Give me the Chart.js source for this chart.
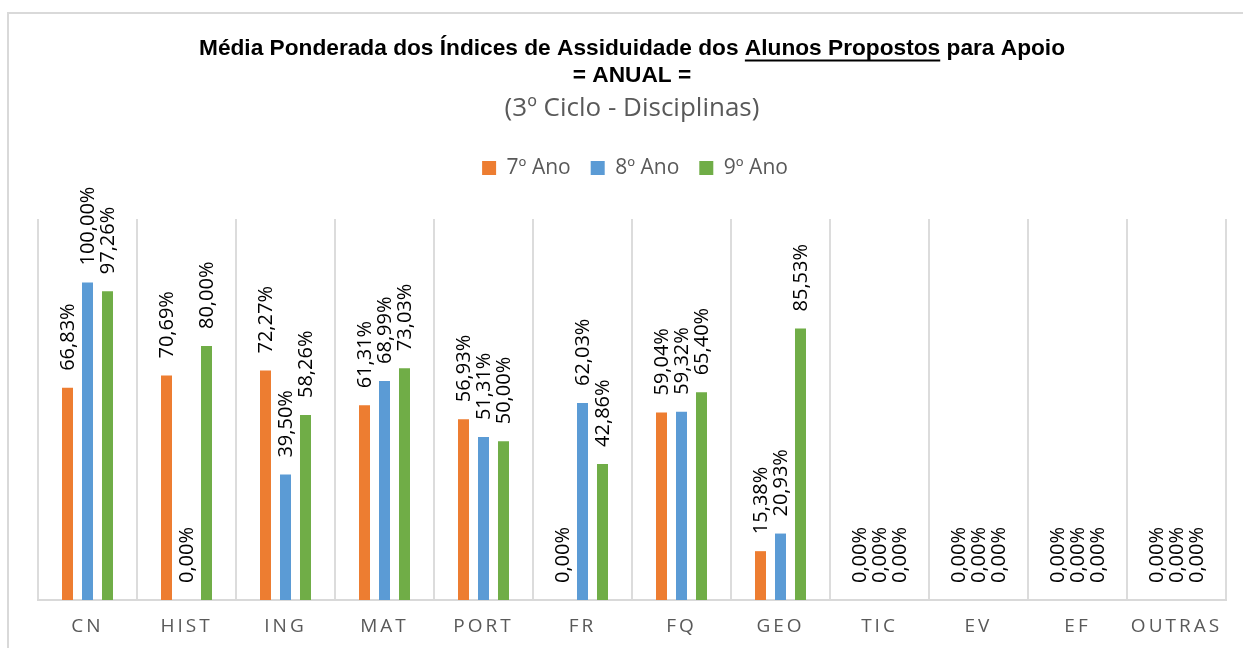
<!DOCTYPE html>
<html>
<head>
<meta charset="utf-8">
<script src="https://cdn.jsdelivr.net/npm/chart.js@4.4.1/dist/chart.umd.min.js"></script>
<style>
  html, body { margin: 0; padding: 0; background: #fff; overflow: hidden; }
  #frame { position: absolute; left: 7px; top: 12px; width: 1300px; height: 700px; border: 2px solid #d9d9d9; }
  #wrap { position: absolute; left: 0; top: 0; width: 1243px; height: 648px; }
</style>
</head>
<body>
<div id="frame"></div>
<div id="wrap"><canvas id="c" width="1243" height="648"></canvas></div>
<script>
const categories = ['CN', 'HIST', 'ING', 'MAT', 'PORT', 'FR', 'FQ', 'GEO', 'TIC', 'EV', 'EF', 'OUTRAS'];
const seriesNames = ['7º Ano', '8º Ano', '9º Ano'];
const ano7 = [66.83, 70.69, 72.27, 61.31, 56.93, 0.00, 59.04, 15.38, 0.00, 0.00, 0.00, 0.00];
const ano8 = [100.00, 0.00, 39.50, 68.99, 51.31, 62.03, 59.32, 20.93, 0.00, 0.00, 0.00, 0.00];
const ano9 = [97.26, 80.00, 58.26, 73.03, 50.00, 42.86, 65.40, 85.53, 0.00, 0.00, 0.00, 0.00];
const colors = ['#ED7D31', '#5B9BD5', '#70AD47'];
const titleLines = ['Média Ponderada dos Índices de Assiduidade dos Alunos Propostos para Apoio', '= ANUAL ='];
const subtitleText = '(3º Ciclo - Disciplinas)';
const underlinePre = 'Média Ponderada dos Índices de Assiduidade dos ';
const underlineText = 'Alunos Propostos';

const fmt = v => v.toFixed(2).replace('.', ',') + '%';

const TITLE_SIZE = 22.7;
const TITLE_LH = 27;
const TITLE_PAD_TOP = 35;
const TITLE_FONT = { family: '"Liberation Sans", Arial, sans-serif', size: TITLE_SIZE, weight: 'bold', lineHeight: TITLE_LH + 'px' };

const labelPlugin = {
  id: 'barLabels',
  afterDatasetsDraw(chart) {
    const ctx = chart.ctx;
    chart.data.datasets.forEach((ds, i) => {
      const meta = chart.getDatasetMeta(i);
      if (meta.hidden) return;
      meta.data.forEach((bar, j) => {
        ctx.save();
        ctx.translate(bar.x + 0.5, bar.y - 17);
        ctx.rotate(-Math.PI / 2);
        ctx.font = '20px "Open Sans"';
        ctx.fillStyle = '#000000';
        ctx.textAlign = 'left';
        ctx.textBaseline = 'middle';
        ctx.fillText(fmt(ds.data[j]), 0, 0);
        ctx.restore();
      });
    });
  }
};

const layoutPlugin = {
  id: 'layoutTweaks',
  afterInit(chart) {
    const lg = chart.legend;
    if (lg && !lg._patched) {
      const origFit = lg.fit;
      lg.fit = function () {
        origFit.call(this);
        this.height += 30.5;
        if (this.lineWidths && this.lineWidths.length) this.lineWidths[0] -= 6;
      };
      lg._patched = true;
    }
  },
  beforeDraw(chart) {
    const sc = chart.scales.x;
    if (sc && !sc._lsPatched) {
      const orig = sc.drawLabels;
      sc.drawLabels = function (ca) {
        const c = this.ctx;
        c.save();
        c.letterSpacing = '3px';
        orig.call(this, ca);
        c.restore();
      };
      sc._lsPatched = true;
    }
  },
  afterDraw(chart) {
    const tb = chart.titleBlock;
    if (!tb) return;
    const ctx = chart.ctx;
    ctx.save();
    ctx.font = 'bold ' + TITLE_SIZE + 'px "Liberation Sans", Arial, sans-serif';
    const wFull = ctx.measureText(titleLines[0]).width;
    const cx = (tb.left + tb.right) / 2;
    const x0 = cx - wFull / 2 + ctx.measureText(underlinePre).width;
    const w = ctx.measureText(underlineText).width;
    const yMid = tb.top + TITLE_PAD_TOP + TITLE_LH / 2;
    ctx.fillStyle = '#000000';
    ctx.fillRect(x0, yMid + 11, w, 2);
    ctx.restore();
  }
};

new Chart(document.getElementById('c'), {
  type: 'bar',
  data: {
    labels: categories,
    datasets: [
      { label: seriesNames[0], data: ano7, backgroundColor: colors[0] },
      { label: seriesNames[1], data: ano8, backgroundColor: colors[1] },
      { label: seriesNames[2], data: ano9, backgroundColor: colors[2] }
    ]
  },
  options: {
    responsive: false,
    animation: false,
    devicePixelRatio: 1,
    categoryPercentage: 0.606,
    barPercentage: 0.55,
    layout: { padding: { left: 38, right: 17, top: 0, bottom: 10 } },
    plugins: {
      title: {
        display: true,
        text: titleLines,
        color: '#000000',
        font: TITLE_FONT,
        padding: { top: TITLE_PAD_TOP, bottom: 0 }
      },
      subtitle: {
        display: true,
        text: subtitleText,
        color: '#595959',
        font: { family: '"Open Sans"', size: 26, lineHeight: 1.2 },
        padding: { top: 4.4, bottom: 12.9 }
      },
      legend: {
        display: true,
        position: 'top',
        labels: {
          boxWidth: 14,
          boxHeight: 14,
          padding: 20,
          color: '#595959',
          font: { family: '"Open Sans"', size: 21 }
        }
      },
      tooltip: { enabled: false }
    },
    scales: {
      x: {
        grid: { display: true, offset: true, color: '#dcdcdc', lineWidth: 2, drawTicks: false },
        border: { display: true, color: '#d9d9d9', width: 2 },
        ticks: {
          color: '#595959',
          padding: 15,
          font: { family: '"Open Sans"', size: 19, lineHeight: 1.2 }
        },
        afterFit(scale) { scale.height = 38; }
      },
      y: {
        display: false,
        min: 0,
        max: 120
      }
    }
  },
  plugins: [labelPlugin, layoutPlugin]
});
</script>
</body>
</html>
